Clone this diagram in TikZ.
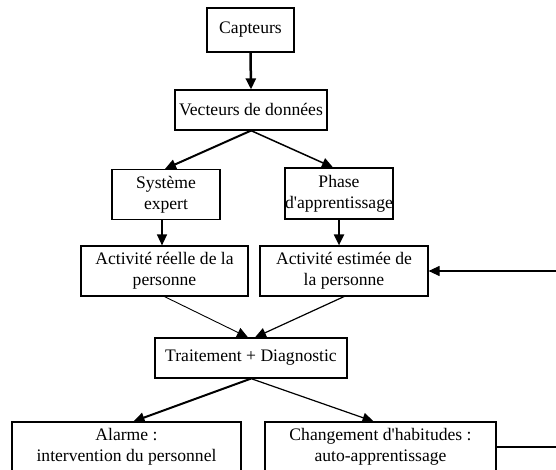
\documentclass[tikz,border=0pt]{standalone}
\usepackage{fontspec}
\setmainfont{Liberation Serif}
\usetikzlibrary{arrows.meta}

\begin{document}
\begin{tikzpicture}[x=1pt,y=-1pt,
  box/.style={draw=black, line width=1.2pt, fill=white, inner sep=0pt,
    align=center, font=\fontsize{17.6}{21}\selectfont},
  flow/.style={-{Triangle[length=11pt,width=10pt]}, line width=1.2pt},
  flowthick/.style={flow, line width=2pt},
  flowthin/.style={flow, line width=0.9pt}]

  % page frame
  \useasboundingbox[fill=white] (0,0) rectangle (556,470);

  % boxes
  \node[box, minimum width=87pt, minimum height=44pt] (capteurs) at (250.5,30) {Capteurs};
  \node[box, minimum width=152pt, minimum height=40pt] (vecteurs) at (251,110) {Vecteurs de données};
  \node[box, minimum width=108pt, minimum height=50pt] (systeme) at (166,194.5) {Système\\expert};
  \node[box, minimum width=108pt, minimum height=51pt] (phase) at (339,193.5) {Phase\\d\textquotesingle apprentissage};
  \node[box, minimum width=167pt, minimum height=50pt] (reelle) at (164.5,271) {Activité réelle de la\\personne};
  \node[box, minimum width=168pt, minimum height=50pt] (estimee) at (344,271) {Activité estimée de\\la personne};
  \node[box, minimum width=192pt, minimum height=40pt] (traitement) at (251,358) {Traitement + Diagnostic};
  \node[box, minimum width=229pt, minimum height=50pt] (alarme) at (126.5,447) {Alarme :\\intervention du personnel};
  \node[box, minimum width=231pt, minimum height=50pt] (changement) at (380.5,447) {Changement d\textquotesingle habitudes :\\auto-apprentissage};

  % loose ends of the feedback loop at the right edge
  \coordinate (retourhaut) at (556,271);
  \coordinate (retourbas) at (556,447);

  % connectors
  \draw[flowthick, line width=2.5pt] (capteurs.south) -- (vecteurs.north);
  \draw[flowthick] (vecteurs.south) -- ([xshift=-1pt]systeme.north);
  \draw[flow, line width=1.5pt] (vecteurs.south) -- ([xshift=-6pt]phase.north);
  \draw[flow, line width=1.5pt] ([xshift=-4pt]systeme.south) -- ([xshift=-4pt]systeme.south |- reelle.north);
  \draw[flowthick] (phase.south) -- (phase.south |- estimee.north);
  \draw[flowthin] (reelle.south) -- ([xshift=-3pt]traitement.north);
  \draw[flow] (estimee.south) -- ([xshift=4pt]traitement.north);
  \draw[flowthick] (traitement.south) -- ([xshift=7pt]alarme.north);
  \draw[flow] (traitement.south) -- ([xshift=-7pt]changement.north);
  \draw[flow] (retourhaut) -- (estimee.east);
  \draw[line width=2pt] (changement.east) -- (retourbas);
\end{tikzpicture}
\end{document}
